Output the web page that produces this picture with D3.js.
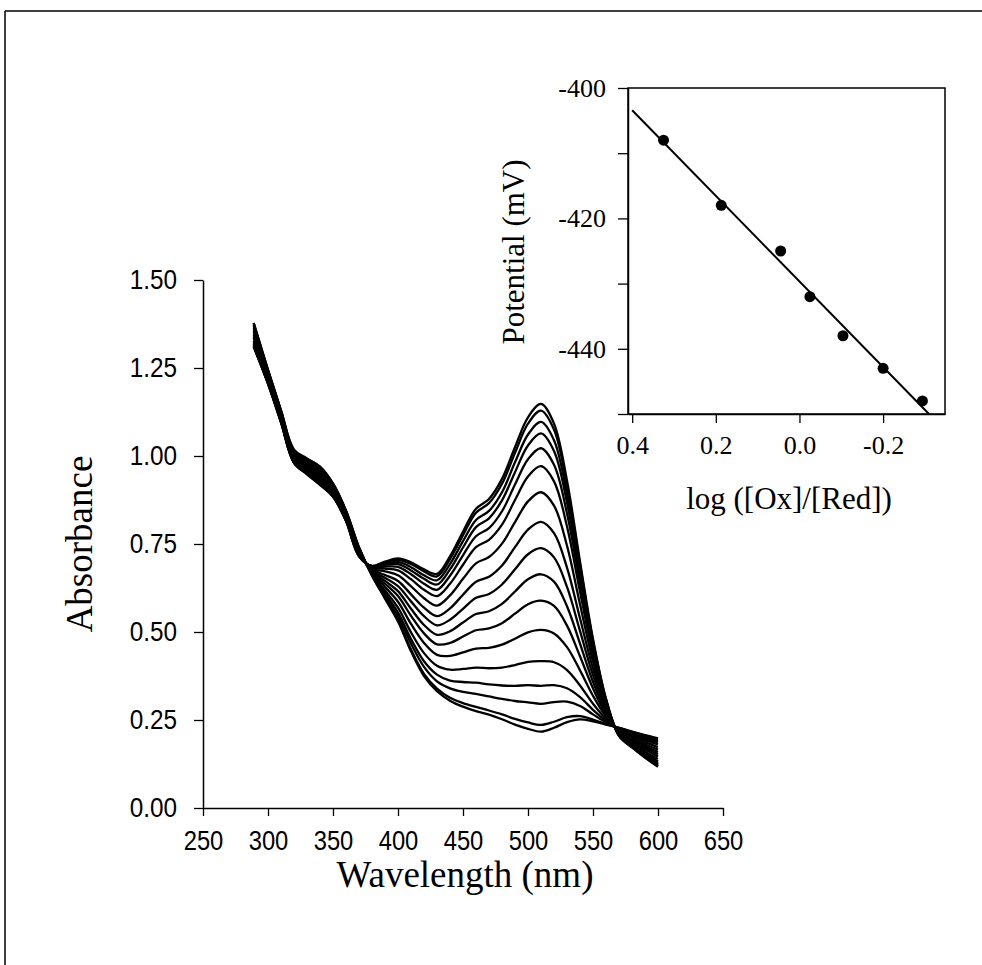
<!DOCTYPE html>
<html>
<head>
<meta charset="utf-8">
<script src="https://cdn.jsdelivr.net/npm/d3@7"></script>
<style>
  body { margin: 0; background: #fff; }
  svg { display: block; }
</style>
</head>
<body>
<svg id="chart" width="982" height="965"></svg>
<script>
// Spectral titration: absorbance vs wavelength, one array per spectrum
const wavelengths = [289, 300, 310, 320, 330, 340, 350, 360, 370, 380, 390, 400, 410, 420, 430, 440,
  450, 460, 470, 480, 490, 500, 510, 520, 530, 540, 550, 560, 570, 580, 590, 600]

const spec01 = [1.310, 1.205, 1.095, 0.980, 0.948, 0.918, 0.884, 0.815, 0.715, 0.688, 0.700, 0.709, 0.698, 0.678, 0.665, 0.715, 0.785, 0.850, 0.878, 0.935, 1.025, 1.110, 1.148, 1.092, 0.930, 0.700, 0.480, 0.310, 0.205, 0.172, 0.143, 0.117]
const spec02 = [1.311, 1.206, 1.096, 0.981, 0.949, 0.919, 0.885, 0.816, 0.716, 0.687, 0.698, 0.705, 0.693, 0.672, 0.658, 0.707, 0.775, 0.839, 0.866, 0.921, 1.009, 1.092, 1.129, 1.075, 0.916, 0.691, 0.475, 0.309, 0.206, 0.173, 0.144, 0.119]
const spec03 = [1.314, 1.207, 1.097, 0.982, 0.951, 0.921, 0.886, 0.817, 0.716, 0.687, 0.694, 0.699, 0.684, 0.661, 0.647, 0.693, 0.758, 0.818, 0.844, 0.897, 0.982, 1.061, 1.097, 1.045, 0.892, 0.675, 0.467, 0.306, 0.206, 0.175, 0.147, 0.122]
const spec04 = [1.316, 1.209, 1.098, 0.984, 0.952, 0.923, 0.887, 0.818, 0.717, 0.686, 0.691, 0.693, 0.675, 0.651, 0.635, 0.678, 0.740, 0.798, 0.823, 0.874, 0.954, 1.030, 1.064, 1.014, 0.868, 0.660, 0.459, 0.303, 0.207, 0.176, 0.149, 0.124]
const spec05 = [1.319, 1.210, 1.100, 0.986, 0.955, 0.925, 0.889, 0.819, 0.718, 0.684, 0.686, 0.685, 0.664, 0.637, 0.620, 0.660, 0.718, 0.772, 0.795, 0.843, 0.919, 0.991, 1.022, 0.975, 0.837, 0.640, 0.448, 0.300, 0.208, 0.178, 0.152, 0.128]
const spec06 = [1.323, 1.213, 1.102, 0.988, 0.957, 0.928, 0.891, 0.821, 0.720, 0.683, 0.680, 0.675, 0.650, 0.620, 0.602, 0.637, 0.691, 0.741, 0.762, 0.805, 0.875, 0.942, 0.971, 0.928, 0.800, 0.615, 0.436, 0.296, 0.209, 0.181, 0.155, 0.132]
const spec07 = [1.328, 1.216, 1.104, 0.991, 0.960, 0.932, 0.894, 0.823, 0.722, 0.680, 0.672, 0.661, 0.630, 0.596, 0.575, 0.604, 0.651, 0.695, 0.713, 0.751, 0.812, 0.871, 0.897, 0.859, 0.745, 0.579, 0.417, 0.290, 0.211, 0.184, 0.160, 0.139]
const spec08 = [1.335, 1.219, 1.108, 0.995, 0.964, 0.937, 0.898, 0.826, 0.724, 0.678, 0.662, 0.645, 0.607, 0.569, 0.545, 0.567, 0.606, 0.643, 0.657, 0.689, 0.741, 0.791, 0.813, 0.781, 0.683, 0.539, 0.396, 0.284, 0.213, 0.188, 0.166, 0.146]
const spec09 = [1.340, 1.223, 1.110, 0.998, 0.968, 0.941, 0.901, 0.828, 0.726, 0.676, 0.654, 0.630, 0.587, 0.545, 0.519, 0.535, 0.566, 0.597, 0.608, 0.635, 0.678, 0.721, 0.738, 0.712, 0.628, 0.503, 0.377, 0.278, 0.215, 0.192, 0.171, 0.153]
const spec10 = [1.345, 1.226, 1.113, 1.001, 0.971, 0.945, 0.904, 0.831, 0.728, 0.673, 0.645, 0.616, 0.566, 0.520, 0.492, 0.502, 0.527, 0.551, 0.559, 0.580, 0.615, 0.650, 0.664, 0.643, 0.573, 0.467, 0.358, 0.272, 0.217, 0.195, 0.176, 0.159]
const spec11 = [1.351, 1.229, 1.116, 1.004, 0.975, 0.949, 0.907, 0.833, 0.730, 0.671, 0.637, 0.602, 0.546, 0.496, 0.465, 0.469, 0.487, 0.505, 0.510, 0.525, 0.552, 0.579, 0.589, 0.574, 0.518, 0.431, 0.340, 0.266, 0.219, 0.199, 0.181, 0.166]
const spec12 = [1.357, 1.233, 1.119, 1.007, 0.979, 0.954, 0.910, 0.836, 0.732, 0.669, 0.628, 0.586, 0.523, 0.469, 0.435, 0.432, 0.442, 0.453, 0.455, 0.464, 0.481, 0.499, 0.506, 0.496, 0.457, 0.391, 0.319, 0.260, 0.221, 0.203, 0.187, 0.173]
const spec13 = [1.363, 1.236, 1.123, 1.010, 0.983, 0.959, 0.914, 0.839, 0.735, 0.666, 0.618, 0.569, 0.499, 0.440, 0.404, 0.393, 0.395, 0.399, 0.397, 0.399, 0.406, 0.415, 0.417, 0.414, 0.392, 0.348, 0.296, 0.253, 0.223, 0.207, 0.193, 0.181]
const spec14 = [1.369, 1.239, 1.125, 1.012, 0.986, 0.963, 0.917, 0.841, 0.737, 0.664, 0.610, 0.555, 0.480, 0.417, 0.379, 0.362, 0.358, 0.356, 0.351, 0.348, 0.347, 0.349, 0.347, 0.349, 0.340, 0.315, 0.279, 0.247, 0.225, 0.211, 0.198, 0.187]
const spec15 = [1.372, 1.242, 1.127, 1.014, 0.989, 0.966, 0.919, 0.842, 0.738, 0.662, 0.604, 0.545, 0.467, 0.401, 0.360, 0.340, 0.330, 0.324, 0.317, 0.310, 0.304, 0.300, 0.296, 0.301, 0.302, 0.290, 0.266, 0.243, 0.226, 0.213, 0.202, 0.191]
const spec16 = [1.377, 1.244, 1.129, 1.016, 0.991, 0.969, 0.921, 0.844, 0.740, 0.661, 0.597, 0.534, 0.450, 0.381, 0.339, 0.313, 0.298, 0.287, 0.277, 0.266, 0.253, 0.243, 0.236, 0.245, 0.258, 0.261, 0.251, 0.238, 0.228, 0.216, 0.206, 0.196]
const spec17 = [1.378, 1.245, 1.130, 1.018, 0.993, 0.970, 0.922, 0.845, 0.740, 0.660, 0.595, 0.530, 0.445, 0.375, 0.332, 0.305, 0.288, 0.275, 0.265, 0.252, 0.237, 0.225, 0.217, 0.228, 0.244, 0.252, 0.246, 0.237, 0.228, 0.217, 0.207, 0.198]

const spectra = [spec01, spec02, spec03, spec04, spec05, spec06, spec07, spec08, spec09,
  spec10, spec11, spec12, spec13, spec14, spec15, spec16, spec17]

const xTicksMain = [250, 300, 350, 400, 450, 500, 550, 600, 650]
const yTicksMain = [0, 0.25, 0.5, 0.75, 1.0, 1.25, 1.5]

// Inset: Nernst plot
const logRatio = [0.325, 0.187, 0.045, -0.025, -0.104, -0.200, -0.294]
const potential = [-408, -418, -425, -432, -438, -443, -448]
const xTicksInset = [0.4, 0.2, 0.0, -0.2]
const yTicksInset = [-400, -410, -420, -430, -440, -450]

const SANS = "'Liberation Sans', Arial, sans-serif"
const SERIF = "'Liberation Serif', 'Times New Roman', serif"

const svg = d3.select("#chart")

// page frame (top and left edge of the scanned figure)
svg.append("line").attr("x1", 5).attr("y1", 11).attr("x2", 982).attr("y2", 11)
  .attr("stroke", "#000").attr("stroke-width", 1.5)
svg.append("line").attr("x1", 5).attr("y1", 11).attr("x2", 5).attr("y2", 965)
  .attr("stroke", "#000").attr("stroke-width", 1.5)

// ---- main spectra panel ----
const x = d3.scaleLinear().domain([250, 650]).range([203, 723])
const y = d3.scaleLinear().domain([0, 1.5]).range([808, 280])

const line = d3.line()
  .x((d, i) => x(wavelengths[i]))
  .y(d => y(d))
  .curve(d3.curveCatmullRom.alpha(0.5))

svg.append("g").selectAll("path")
  .data(spectra)
  .join("path")
  .attr("d", line)
  .attr("fill", "none")
  .attr("stroke", "#000")
  .attr("stroke-width", 2.3)
  .attr("stroke-linejoin", "round")

function styleAxis(g, font, size, squeeze) {
  g.select(".domain").attr("stroke", "#000").attr("stroke-width", 1.5)
  g.selectAll(".tick line").attr("stroke", "#000").attr("stroke-width", 1.3)
  g.selectAll(".tick text")
    .attr("fill", "#000")
    .style("font-family", font)
    .style("font-size", size + "px")
  if (squeeze) {
    // scanned labels look tall and narrow
    g.selectAll(".tick text").each(function() {
      const len = this.getComputedTextLength()
      if (len > 0) d3.select(this).attr("textLength", len * squeeze).attr("lengthAdjust", "spacingAndGlyphs")
    })
  }
}

const hyphen = f => d => f(d).replace("\u2212", "-")

svg.append("g")
  .attr("transform", `translate(0,${y(0)})`)
  .call(d3.axisBottom(x).tickValues(xTicksMain).tickSize(8).tickSizeOuter(0).tickPadding(15))
  .call(g => styleAxis(g, SANS, 27, 0.88))

svg.append("g")
  .attr("transform", `translate(${x(250)},0)`)
  .call(d3.axisLeft(y).tickValues(yTicksMain).tickFormat(d3.format(".2f"))
    .tickSize(9).tickSizeOuter(0).tickPadding(17))
  .call(g => styleAxis(g, SANS, 27, 0.9))

svg.append("text")
  .attr("x", 465).attr("y", 887)
  .attr("text-anchor", "middle")
  .style("font-family", SERIF).style("font-size", "37px")
  .text("Wavelength (nm)")

svg.append("text")
  .attr("transform", "translate(92,544) rotate(-90)")
  .attr("text-anchor", "middle")
  .style("font-family", SERIF).style("font-size", "37px")
  .text("Absorbance")

// ---- inset ----
const xi = d3.scaleLinear().domain([0.41, -0.348]).range([628, 945])
const yi = d3.scaleLinear().domain([-450, -400]).range([414, 88])

svg.append("rect")
  .attr("x", 628).attr("y", 88).attr("width", 945 - 628).attr("height", 414 - 88)
  .attr("fill", "none").attr("stroke", "#000").attr("stroke-width", 1.5)

svg.append("g")
  .attr("transform", `translate(0,414)`)
  .call(d3.axisBottom(xi).tickValues(xTicksInset).tickFormat(hyphen(d3.format(".1f")))
    .tickSize(9).tickSizeOuter(0).tickPadding(13))
  .call(g => styleAxis(g, SERIF, 26))

svg.append("g")
  .attr("transform", `translate(628,0)`)
  .call(d3.axisLeft(yi).tickValues(yTicksInset)
    .tickFormat(d => d % 20 === 0 ? String(d) : "")
    .tickSize(10).tickSizeOuter(0).tickPadding(12))
  .call(g => styleAxis(g, SERIF, 26))

// least-squares fit line through the Nernst points
const mx = d3.mean(logRatio), my = d3.mean(potential)
const slope = d3.sum(logRatio, (v, i) => (v - mx) * (potential[i] - my)) /
  d3.sum(logRatio, v => (v - mx) ** 2)
const fit = v => my + slope * (v - mx)
const xEnd = mx + (-450 - my) / slope

svg.append("line")
  .attr("x1", xi(0.4)).attr("y1", yi(fit(0.4)))
  .attr("x2", xi(xEnd)).attr("y2", yi(-450))
  .attr("stroke", "#000").attr("stroke-width", 2)

svg.append("g").selectAll("circle")
  .data(logRatio)
  .join("circle")
  .attr("cx", d => xi(d))
  .attr("cy", (d, i) => yi(potential[i]))
  .attr("r", 5.5)
  .attr("fill", "#000")

svg.append("text")
  .attr("x", 789).attr("y", 509)
  .attr("text-anchor", "middle")
  .style("font-family", SERIF).style("font-size", "31px")
  .text("log ([Ox]/[Red])")

svg.append("text")
  .attr("transform", "translate(524,252) rotate(-90)")
  .attr("text-anchor", "middle")
  .style("font-family", SERIF).style("font-size", "31px")
  .text("Potential (mV)")
</script>
</body>
</html>
